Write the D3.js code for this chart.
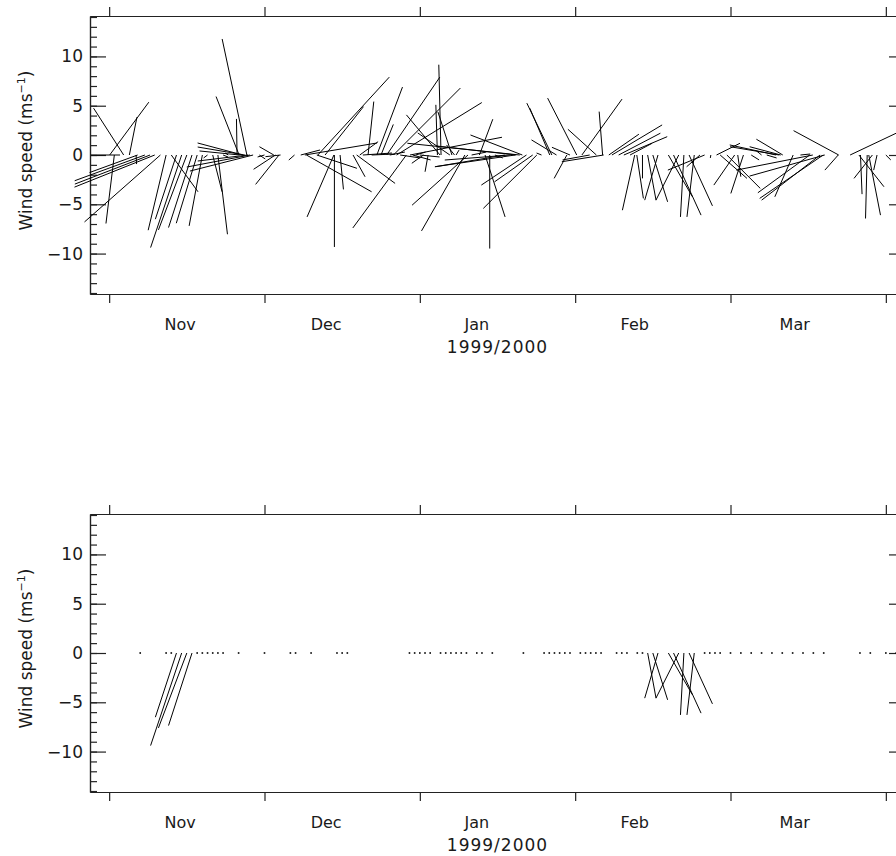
<!DOCTYPE html>
<html>
<head>
<meta charset="utf-8">
<script src="https://cdn.jsdelivr.net/npm/d3@7"></script>
<style>
  body { margin: 0; background: #fff; }
  text { font-family: "DejaVu Sans", sans-serif; fill: #1a1a1a; }
</style>
</head>
<body>
<svg width="896" height="856"></svg>
<script>
// dias contados a partir de 1 Nov 1999, vento em m/s (u = leste, v = norte)
const dias = [0.1,1,2.1,2.8,3.9,5.2,5.5,6.9,7.9,8.8,9.9,11,12,13,14,15,16,17,18,19,20,21,22,23,
  24.7,25.1,25.2,25.8,26.2,26.6,26.8,27.2,27.8,29,30,31.8,32.1,32.8,33.1,35.8,37,37.8,38.1,40.1,40.3,41.7,
  43.4,43.5,44.6,47.1,47.8,48.4,49,50,50.7,51.7,52.5,53.6,54.2,54.9,55.5,56.2,57.4,58.1,58.6,59.2,60,60.7,61.6,
  63.4,63.9,64.1,65.8,66.2,66.7,67,68.7,69.3,70,71.5,72.6,73.5,74.5,76.4,77.4,78.4,78.6,79.3,79.8,80.6,81.8,82.6,83.5,
  85.1,85.5,86.4,88.4,89,90.3,91.3,92.8,94.1,95.3,95.5,96.5,97.1,98.4,99.4,100.6,101.5,101.9,103,
  104,105,106,108,109,110,111,112,113,114.1,115,116.2,117.3,118,119.3,120.8,121.4,122.5,124,126,127,
  128.8,129.4,129.7,130.1,132.1,133.5,135.3,135.9,137.3,137.9,138.2,140.8,140.9,143.1,144.8,145.1,146.4,146.7,147.4,148.3,150];
const ventoU = [3.97,-0.85,-2.95,-3.05,0.77,0.05,-4.88,-7.12,-7.63,-8.14,-7.7,-1.82,2.71,-2.14,-3.15,-2.88,-2.38,-2.12,-1.34,-0.4,0.95,0.97,0.5,-0.3,
  -0.06,-2.34,-4.07,-4.58,-4.78,-2.51,-5.09,-6.41,-6.41,0.6,-0.7,-1.46,-2.21,-2.37,-1.53,-0.58,1.96,7.32,6.61,4.07,7.25,3.9,
  -2.72,0,0.34,1.22,3.9,1.86,2.95,0.58,2.34,2.6,1.25,5.39,1.53,6.79,8.65,2.03,-5.43,9.33,1.83,1.0,2.0,-1.18,-0.31,
  -0.16,-3.41,-0.23,-3.26,-1.42,-0.81,0.3,-4.4,-5.67,1.5,1.36,2.03,0,0.8,-7.02,-6.61,-8.14,-8.14,-11.4,-5.26,-4.58,-3.87,-5.43,-0.5,
  -2.03,-2.54,-2.54,-1.29,-1.83,-2.95,4.07,-2.75,-2.89,-0.35,-4.24,3.05,5.09,4.23,4.4,2.24,-1.25,0.67,0,
  0.85,1.5,-1.35,2.44,2.79,-2.31,-0.35,2.37,-0.74,-1.35,-3.73,-0.05,2.38,2.72,3.39,-2.11,0.31,-1.28,0.8,-0.5,1.0,
  -4.7,-4.98,-3.15,-2.68,-1.86,1.0,-5.26,-7.76,-5.93,-6.44,-7.63,-1.35,-4.58,5.6,2.54,0.16,-0.17,1.19,-1.86,-0.34,0.5];
const ventoV = [5.36,-6.95,0,4.75,3.84,-0.92,-1.78,-2.61,-2.95,-3.26,-6.79,-7.63,-3.73,-6.51,-9.39,-7.6,-7.36,-6.92,-7.19,-0.3,-3.73,-8.04,-0.2,0.2,
  3.66,5.93,0.41,1.22,0.81,11.77,-0.61,-1.22,-1.63,-0.4,-0.2,0.84,-1.45,-2.98,-0.17,-0.51,0.51,1.22,-3.73,-1.35,7.9,4.91,
  -6.28,-9.33,-3.49,-2.21,-2.88,1.35,0.2,5.42,0.1,6.89,3.1,7.9,0.3,6.79,5.32,-0.3,-7.4,1.8,-0.5,0.3,-0.2,-0.84,-1.7,
  5.09,4.07,9.16,2.24,4.37,1.02,0.5,-7.7,-5.09,0.3,3.63,-6.28,-9.49,-0.3,-1.19,-0.51,-1.19,0.92,1.19,2.03,-3.05,-2.72,-5.42,0.2,
  4.75,5.26,1.53,-2.37,0.78,5.77,5.67,-0.5,2.61,4.4,-0.68,2.11,3.05,2.21,1.86,1.19,-5.6,-4.4,-2.37,
  -4.58,-4.75,-4.58,-4.24,-6.1,-4.58,-6.28,-5.16,-6.28,-1.19,-1.53,-0.3,1.19,-2.37,-3.39,-3.05,-2.2,-3.9,-0.5,0.4,-0.3,
  1.02,0.84,0.84,1.6,-4.24,0.1,-3.83,-1.53,-4.58,-4.4,-2.14,-1.53,2.47,2.65,-3.22,-3.97,-6.44,-6.1,-2.37,-1.53,-0.5];

// painel de baixo: dias com evento (varetas) e dias com ponto
const diasEvento = [13,14,15,16,104,105,106,108,109,110,111,112,113];
const diasPonto = [6,11,12,17,18,19,20,21,22,25,30,35,36,39,44,45,46,58,59,60,61,62,64,65,66,67,68,69,71,72,74,80,
  84,85,86,87,88,89,91,92,93,94,95,98,99,100,102,103,115,116,117,118,120,122,124,126,128,130,132,134,136,138,145,147,150,152];

const mesTicks = [0,30,60,90,120,150];
const mesNomes = ['Nov','Dec','Jan','Feb','Mar'];
const mesPos = [13.7,41.9,71,101.5,132.4];
const anoPos = 75;
const yMaior = [-10,-5,0,5,10];
const yMenor = d3.range(-14,15);

const svg = d3.select('svg');

const dados = dias.map((d,i) => ({dia: d, u: ventoU[i], v: ventoV[i]}));

const x = d3.scaleLinear().domain([-3.7,153.7]).range([90,905]);

function painel(topo, varetas, pontos) {
    const y = d3.scaleLinear().domain([-14.1,14.1]).range([topo + 278, topo]);
    const k = y(0) - y(1); // px por m/s, mesma escala para u
    const g = svg.append('g');

    // eixos y (ticks para dentro)
    g.append('g')
        .attr('transform', `translate(${x.range()[0]},0)`)
        .call(d3.axisLeft(y).tickValues(yMenor).tickSize(-7).tickFormat('').tickSizeOuter(0));
    g.append('g')
        .attr('transform', `translate(${x.range()[0]},0)`)
        .call(d3.axisLeft(y).tickValues(yMaior).tickSize(-16).tickPadding(7)
            .tickFormat(d => d < 0 ? '\u2212' + Math.abs(d) : d).tickSizeOuter(0));
    g.append('g')
        .attr('transform', `translate(${x.range()[1]},0)`)
        .call(d3.axisRight(y).tickValues(yMenor).tickSize(-7).tickFormat('').tickSizeOuter(0));
    g.append('g')
        .attr('transform', `translate(${x.range()[1]},0)`)
        .call(d3.axisRight(y).tickValues(yMaior).tickSize(-16).tickFormat('').tickSizeOuter(0));

    // eixos x (ticks para fora)
    g.append('g')
        .attr('transform', `translate(0,${y.range()[0]})`)
        .call(d3.axisBottom(x).tickValues(mesTicks).tickSize(9).tickFormat('').tickSizeOuter(0));
    g.append('g')
        .attr('transform', `translate(0,${y.range()[1]})`)
        .call(d3.axisTop(x).tickValues(mesTicks).tickSize(9).tickFormat('').tickSizeOuter(0));

    g.selectAll('.domain, .tick line')
        .attr('stroke', '#222')
        .attr('stroke-width', 1.2);
    g.selectAll('.tick text')
        .attr('font-size', 17)
        .attr('font-family', '"DejaVu Sans", sans-serif')
        .attr('fill', '#1a1a1a');

    // nomes dos meses
    g.selectAll('text.mes').data(mesNomes).join('text')
        .attr('class', 'mes')
        .attr('x', (d,i) => x(mesPos[i]))
        .attr('y', y.range()[0] + 36)
        .attr('text-anchor', 'middle')
        .attr('font-size', 16)
        .text(d => d);
    g.append('text')
        .attr('x', x(anoPos))
        .attr('y', y.range()[0] + 59)
        .attr('text-anchor', 'middle')
        .attr('font-size', 17)
        .attr('letter-spacing', 1)
        .text('1999/2000');

    const rotulo = g.append('text')
        .attr('transform', `translate(32,${y(0) - 4.5}) rotate(-90)`)
        .attr('text-anchor', 'middle')
        .attr('font-size', 17);
    rotulo.append('tspan').text('Wind speed (ms');
    rotulo.append('tspan').attr('font-size', 11).attr('dy', -7).text('\u22121');
    rotulo.append('tspan').attr('dy', 7).text(')');

    // varetas do vento
    g.selectAll('line.vareta').data(varetas).join('line')
        .attr('class', 'vareta')
        .attr('x1', d => x(d.dia))
        .attr('y1', y(0))
        .attr('x2', d => x(d.dia) + d.u * k)
        .attr('y2', d => y(d.v))
        .attr('stroke', '#000')
        .attr('stroke-width', 1);

    g.selectAll('rect.ponto').data(pontos).join('rect')
        .attr('class', 'ponto')
        .attr('x', d => x(d) - 0.8)
        .attr('y', y(0) - 0.8)
        .attr('width', 1.6)
        .attr('height', 1.6)
        .attr('fill', '#000');
}

painel(16, dados, []);
painel(514, dados.filter(d => diasEvento.includes(d.dia)), diasPonto);
</script>
</body>
</html>
